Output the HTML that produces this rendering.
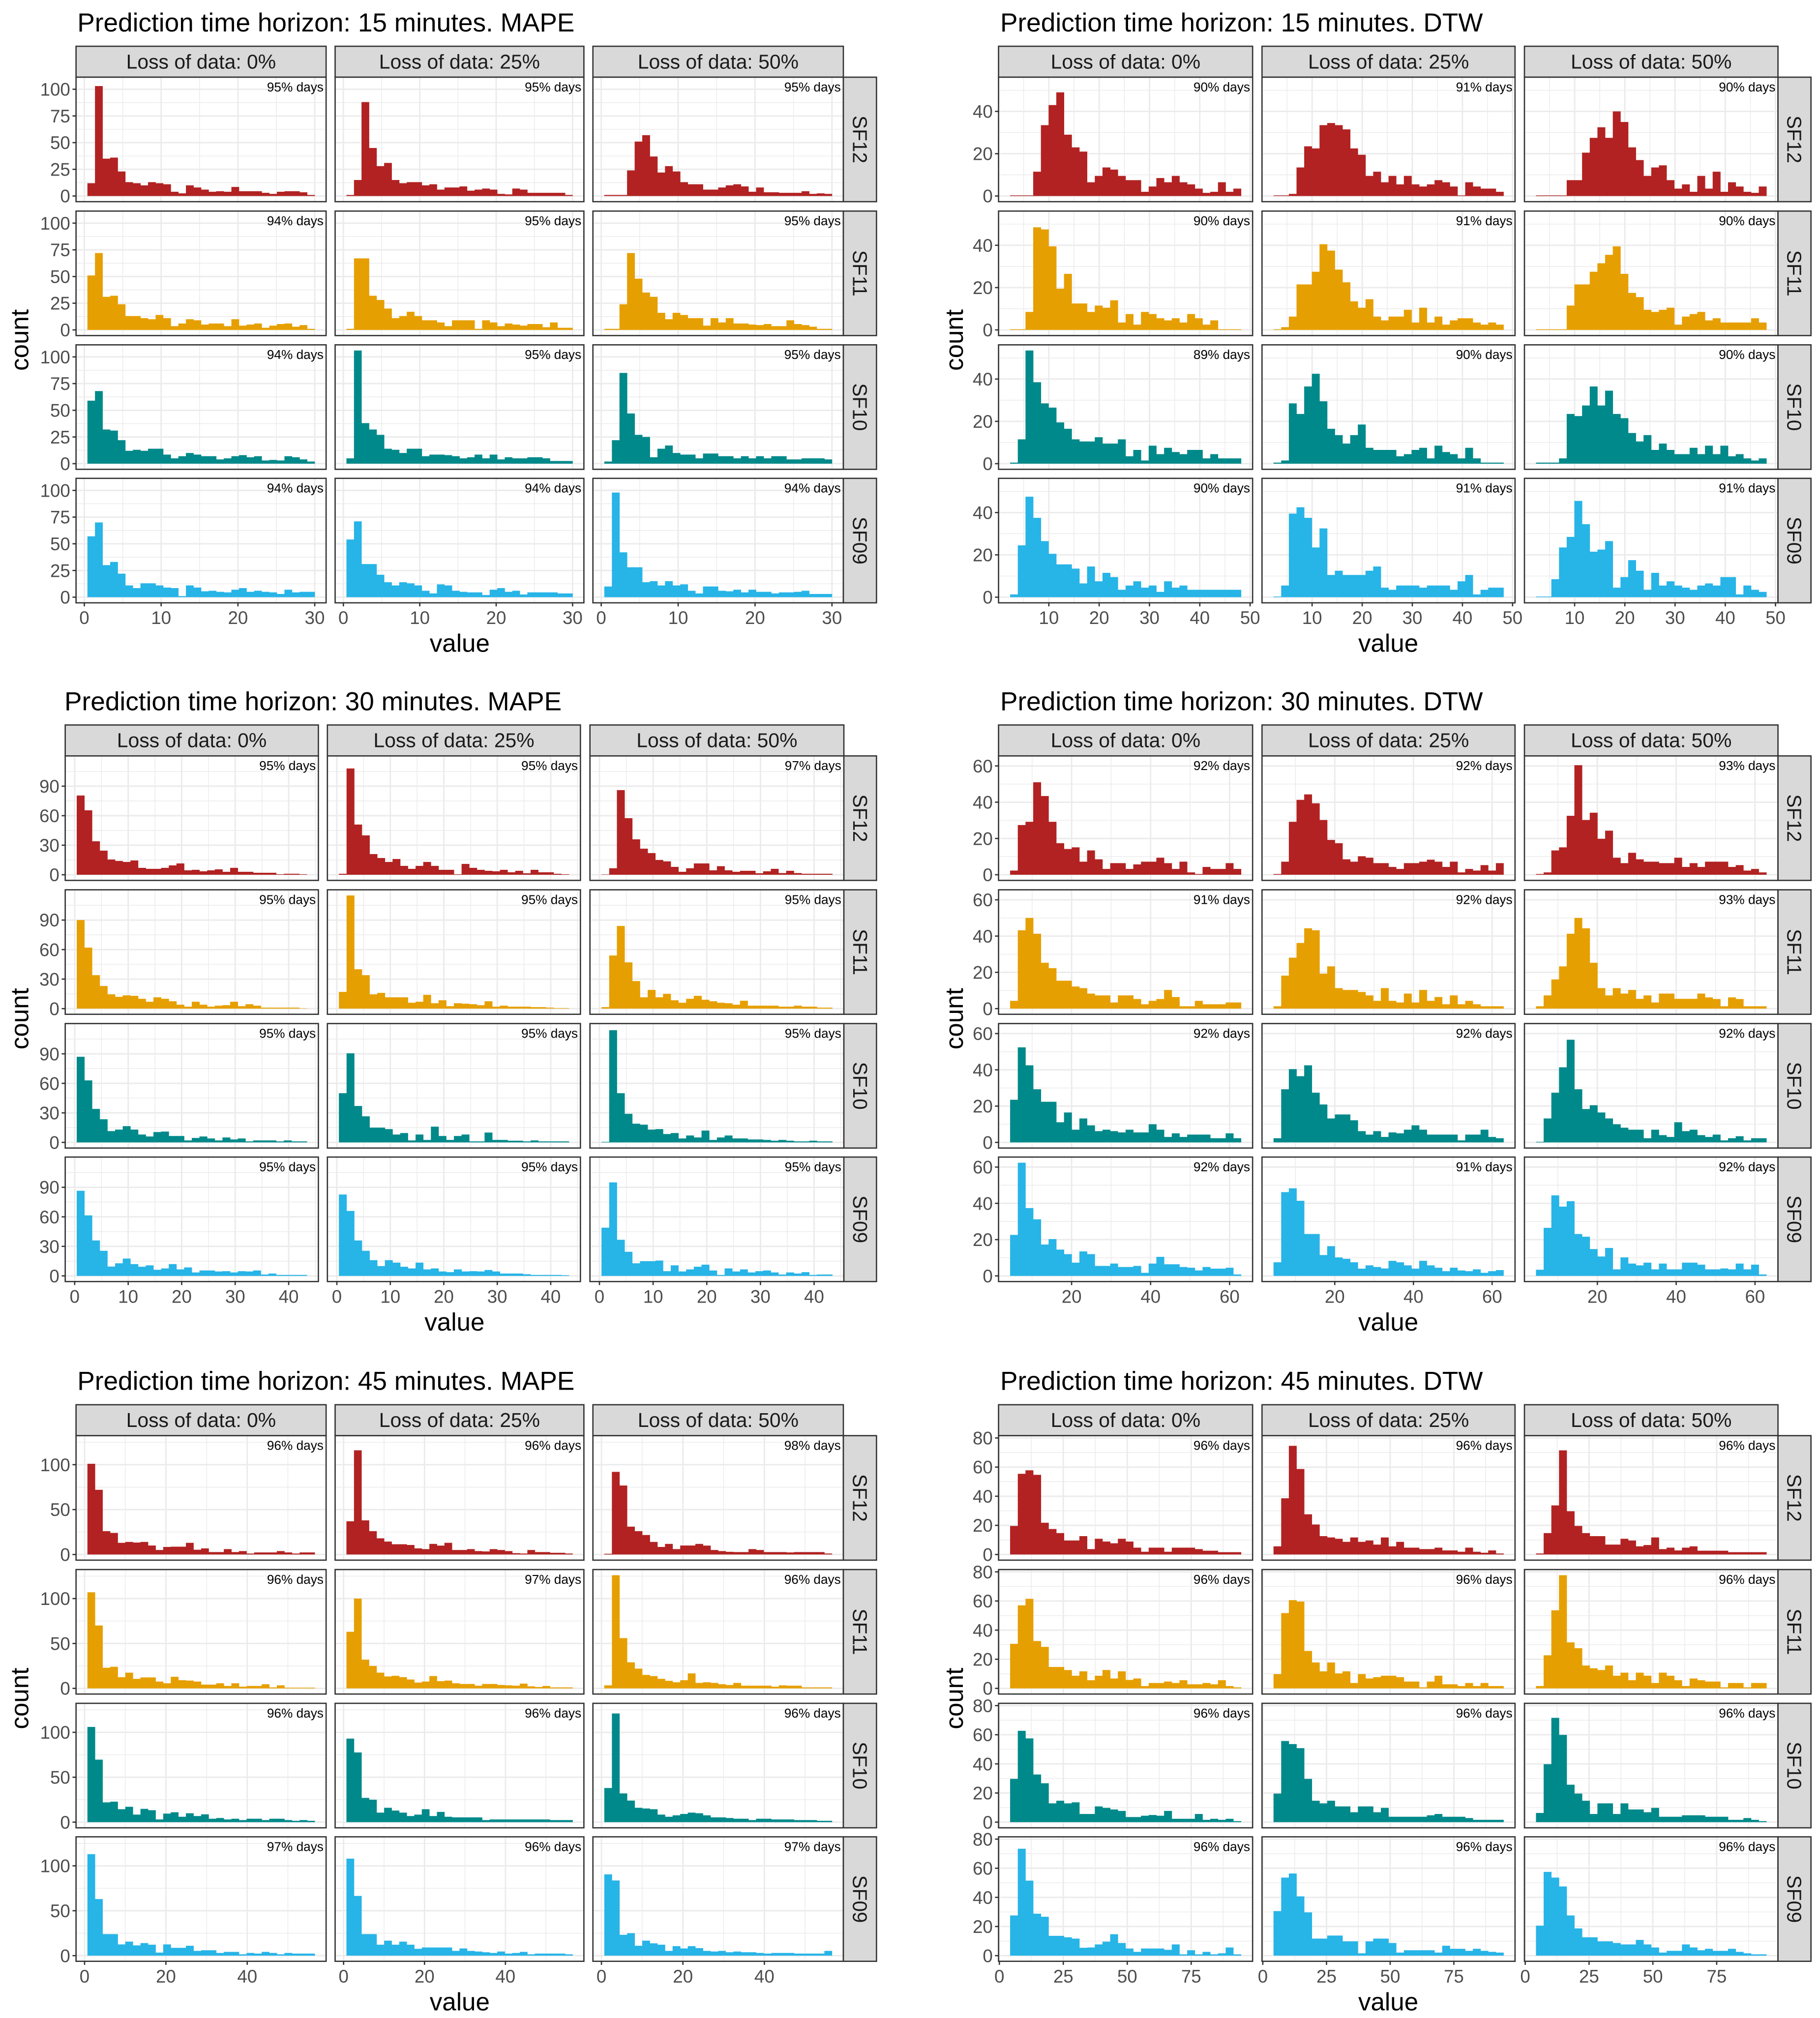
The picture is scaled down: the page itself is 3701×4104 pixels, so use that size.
<!DOCTYPE html>
<html><head><meta charset="utf-8">
<style>
html,body{margin:0;padding:0;background:#fff;}
svg{display:block;}
text{font-family:"Liberation Sans",Arial,sans-serif;}
</style></head>
<body>
<svg id="fig" xmlns="http://www.w3.org/2000/svg" width="3701" height="4104" viewBox="0 0 1412 1566" preserveAspectRatio="none"></svg>
<script>
// ---------- categories ----------
const stations = ['SF12','SF11','SF10','SF09'];
const losses = ['Loss of data: 0%','Loss of data: 25%','Loss of data: 50%'];
const stationColors = ['#B22222','#E69F00','#00898A','#27B4E7'];

// ---------- data: counts per bin [station][loss][bin] ----------
const mape15 = [
 [[12,103,35,36,23,13,12,10,13,12,11,4,2.5,10,8,6,4,4.5,4,8.5,4.5,4.5,4.5,3,2,4,4.5,4.5,3.5,1],
  [1,15,88,45,28,31,15,12,13,13,10,11,6,8,8,9,5,6,7,6,2,1.5,7,6,3,3,3,3,3,1],
  [1,1,1,24,51,57,37,22,28,23,13,11,11,6,6,8,10,11,9,4,8,3.5,3.5,3,3,3,4.5,2,2.5,2]],
 [[51,72,31,32,24,13,13,11,10,14,11,3.5,6,10,9,5,6,6,3.5,10,4,5,6,2,4,5.5,6,3,4.5,1],
  [1,67,67,32,28,20,11,13,17,13,9,9,7,3.5,9,9,9,1,9,7,3.5,6,5,4,5.5,5.5,2.5,7,2,2],
  [1,1,24,72,48,35,31,16,10,16,14,11,11,4,11,7,11,6,6,5,4.5,5.5,3.5,3.5,9,5.5,4.5,3,1,1]],
 [[59,68,32,31,22,12,13,12,14,14,8.5,5,7,10,8.5,7,7,4,5,7,8,6,7,3,3.5,3,7,6,4,2],
  [5,106,38,32,27,14,13,10,14,14,7,8.5,8.5,8,7,5,6,8.5,5,8.5,4,6,5,5,6,6,5,2.5,2.5,2.5],
  [2,22,85,47,27,25,6,14,17,10,8.5,8.5,5,9.5,9.5,7,7,5,7,5,7,5,7,7,4,4,5,5,5,4]],
 [[57,70,30,33,22,11,8.5,13,13,11,9,8.5,1,11,9,5.5,6,5,4.5,7,8.5,5,6,5,4.5,3,7,4.5,5,5],
  [54,71,31,31,21,14,11,14,13,11,6,3.5,12,11,6,5,4.5,4.5,2,7,8.5,5,6,2.5,4.5,4.5,4.5,4.5,3.5,3.5],
  [10,98,42,28,28,14,15,11,15,11,12,6,3.5,10,10,6,5.5,7,4.5,7,5,5,3.5,4.5,4.5,5,6,3,3,3]]
];
const dtw15 = [
 [[0.3,0.3,0.3,11.5,33.5,43,49,29,23,21,6.5,9.5,13.5,12.5,9.5,7.5,7.5,2,4.5,8.5,6.5,9.5,6.5,5.5,3.5,1.5,2,6.5,2,3.5],
  [0.3,0.3,1,13.5,23.5,22.5,33.5,34.5,33.5,31.5,22.5,19.5,9.5,11.5,6.5,9.5,5.5,9.5,5.5,4.5,5.5,7.5,6.5,4.5,0.3,6.5,4.5,3.5,3.5,2],
  [0.3,0.3,0.3,0.3,7.5,7.5,20.5,27.5,32.5,27.5,40,35,23,17,9.5,13.5,14.5,7.5,3.5,5.5,2,9.5,3.5,11.5,2,6.5,4.5,2,1.5,4.5]],
 [[0.3,0.3,8.5,48.5,47.5,39.5,19.5,26.5,12.5,12.5,8.5,11.5,10.5,14,3.5,7.5,2.5,8.5,7.5,5.5,4.5,5.5,3.5,7.5,5.5,2.5,4.5,0.3,0.3,0.3],
  [0.3,1.3,6.3,21.5,21.5,27.5,40.5,37.5,28.5,22.5,13.5,10.5,14.5,6.3,4.5,6.3,6.3,9.5,3.5,10.5,3.5,6.3,2.5,4.5,5.5,5.5,3.5,2.5,3.5,2.5],
  [0.3,0.3,0.3,0.3,11.5,21.5,21.5,27.5,31.5,35.5,39.5,26.5,17.5,15.5,9.5,8.5,9.5,10.5,2.5,6.3,7.5,8.5,4.5,5.5,3.5,3.5,3.5,3.5,5.5,3.5]],
 [[0.5,11.5,53.5,38.5,28.5,26.5,19.5,16.5,11.5,10.5,10.5,12.5,9.5,9.5,11.5,3.5,6.5,1.5,8.5,4.5,7.5,5.5,4.5,6.5,6.5,2.5,4.5,2.5,2.5,2.5],
  [0.5,1.5,28.5,23.5,36.5,42.5,29.5,16.5,13.5,9.5,13.5,18.5,7.5,6.5,6.5,6.5,3.5,4.5,6.5,7.5,2.5,8.5,5.5,4.5,2.5,7.5,2.5,0.5,0.5,0.5],
  [0.5,0.5,0.5,2.5,23.5,22.5,27.5,36.5,27.5,34.5,23.5,21.5,14.5,10.5,13.5,6.5,9.5,6.5,4.5,4.5,7.5,4.5,8.5,4.5,8.5,3.5,4.5,2.5,1.5,2.5]],
 [[1.3,24.5,47.5,37.5,26.5,20.5,15.5,15.5,13.5,6.5,14.5,7.5,11.5,9.5,3.5,5.5,7.5,4.5,5.5,2.5,7.5,4.5,5.5,3.5,3.5,3.5,3.5,3.5,3.5,3.5],
  [0.3,5.5,39.5,42.5,37.5,23.5,32.5,10.5,12.5,10.5,10.5,10.5,12.5,14.5,4.5,3.5,5.5,5.5,5.5,4.5,5.5,5.5,5.5,3.5,7.5,10.5,1.3,3.5,4.5,4.5],
  [0.3,0.3,8.5,23.5,28.5,45.5,34.5,21.5,22.5,26.5,4.5,9.5,17.5,12.5,3.5,11.5,5.5,7.5,5.5,4.5,3.5,5.5,6.5,5.5,9.5,9.5,1.3,5.5,3.5,2.5]]
];
const mape30 = [
 [[80.5,65.5,34,24.5,15.5,14,13,14.5,7,6,6,7,9.5,11.5,4.5,5,3.5,4.5,5.5,3,7,3,3,2,2,2,0.5,1,1,0.5],
  [1,108,51,40,21,17,13,16,9,6,9,13,9,5,5,0.5,11,7,5,4,3.5,5,2.5,4,1.5,5,2.5,2.5,1,0.5],
  [0.3,6.6,86,57.5,36,26.5,22,15,13.6,8,3,6.6,11.5,11.5,4.5,8.7,4.5,3,4,4,1.5,3.5,6,1.7,4,1.7,1,1,1,1]],
 [[90,62,34,23,14.5,12,13.5,13,10,7,11.5,10,7.5,4,2,7,4,2,3,3.5,7,2.5,4.5,3,1,1,1,1,1,0.3],
  [17,115,40,34,14.5,16,11.5,11.5,11.5,6,7,14,5.5,8.5,2.5,5.5,5,4.5,3.5,7.5,2,3,2,2,2,1.5,1.5,1,0.5,0.5],
  [1.5,54,84,47,28,11.5,19,11.5,15,8.5,6,10,13,9,7.5,6,5.5,4,8,3,3,3,3,2,2,3,2,2,1,1]],
 [[87,63,34,23.5,11.5,13,16.5,13,8,6,10.5,11,6.5,6.5,2,4.5,6,4,2,5,3,4,1,2,2,2,1,2,1,1],
  [50,90.5,37,26.5,15,15,13.5,8,9.5,2,8,2.5,16,6.5,2.5,6.5,8,1,1,10,2.5,2.5,1.7,1.7,1,2,1,1,1,1],
  [0.5,114,50,29,19,18,13,13.5,8.5,9.5,4,7,5,12,2.5,5,7,4,4,3,3,2.5,1.7,2.5,1.7,1,1,1.7,1,1]],
 [[86.5,61.5,36,25.5,9.5,12.8,17.6,12,9.3,10.7,6.2,7.6,12,6.6,8.6,3.5,5.5,5.5,4.5,4.8,3.5,4.8,4.5,5.5,1.4,2.4,1,1,1,1],
  [82.7,66,36,25.5,16,10,16,13.5,9.3,7.6,13.5,6.6,7.6,4.5,3.8,6.6,4.5,4.8,4.5,6,4.5,2.4,2.4,2.4,1.7,1,1,1,1,0.7],
  [49,95,36.7,24.5,12.8,14.9,14.9,15.6,4.8,10.7,4.5,6.6,9.3,11.4,5.5,1,7.6,4.5,6.6,3.5,4.8,5.5,3.5,1.4,3.5,2.4,3.8,1,1.4,1.4]]
];
const dtw30 = [
 [[2.3,27.4,29.2,51,43.4,29.2,17.4,14.2,15.1,7.2,13.4,8.5,3.2,6.4,6.4,3.2,5.7,7.2,7.2,9.4,6.4,3.2,7.2,1.3,0.4,4.3,3.2,3.2,6.4,3.2],
  [0.4,7.2,29.2,41.3,44.3,39.4,30.2,19.2,17.4,8.5,7.2,10.2,9.4,6.4,6.4,4.3,3.2,6.4,6.4,7.2,8.3,7.2,4.3,7.2,1.3,3.2,2.3,5.3,2.3,6.4],
  [0.4,1.3,13.4,15.1,32.5,60.4,30.2,34.2,19.8,24.3,9.4,6.4,12.1,8.5,7.2,7.2,6.4,6.4,9.4,4.3,6.4,4.3,7.2,7.2,7.2,4.3,5.3,2.3,3.2,1.3]],
 [[4.3,43.2,50,41.3,25.3,22.3,15.4,15.4,12.2,11.3,8.3,7.3,7.3,3.4,7.3,7.3,5.3,2.4,4.3,5.3,10.3,6.4,1.3,1.3,4.3,2.4,2.4,2.4,3.4,3.4],
  [1.3,18.2,28.1,36.2,44.3,43.2,19.3,23.3,11.3,10.3,10.3,9.2,7.3,4.3,11.3,4.3,3.4,8.3,3.4,10.3,4.3,6.4,2.4,7.3,2.4,4.3,2.4,1.3,1.3,1.3],
  [1.3,7.3,16.1,23.3,41.3,50,44.3,25.3,11.3,7.3,11.3,8.3,10.3,5.4,7.3,3.4,8.3,8.3,5.4,5.4,5.4,8.3,6.2,5.3,1.3,6.2,5.3,1.3,1.3,1.3]],
 [[23.5,52.4,42.5,29.3,22.4,22.4,11.1,16.5,7,13.2,9.4,6.2,7,6.2,5.5,7,5.5,5.5,10,7,3,5,3,4.3,4.3,4.3,2.3,2.3,5,2.3],
  [2.3,29.3,40.4,36.5,42.5,27.4,20.9,13.2,15.4,15.4,12.2,6.2,4.3,6.2,3,5.5,5,7,9.4,7,4.3,4.3,4.3,4.3,1.1,4.3,4.3,7,3,2.3],
  [0.3,13.2,27.4,41.4,56.6,29.3,18.4,20.5,16.5,13.2,10,8.1,7,7,2.3,7,4,3,11.1,6.2,7,4,3,4.3,1.1,2.3,3.4,1.1,2.3,2.3]],
 [[22.6,62.4,37.4,31.2,17.3,20.3,14.5,12,7.3,13.5,12,5.5,5.5,6.8,4.9,4.9,5.5,1.7,6.8,10.5,6.4,6.4,4.9,4.5,3,4.9,4,4,4.5,0.8],
  [7.5,46.2,48.3,41.4,23.1,23.1,11.5,16.4,10.2,9.4,7.5,4,5.8,4.9,4.1,8.3,7.5,5.8,4,8.3,5.8,4.5,2.6,4.5,3,2.6,3.6,1.7,2.6,3.2],
  [3.4,26.5,44.4,38.2,41.2,23.1,21.6,14.8,10.7,15.4,3.6,10.2,6.8,5.8,7.3,3.6,6.8,3.6,3.6,7.3,7.3,6.2,3.6,3.6,4.1,3.6,6.8,3.6,6.2,0.8]]
];
const mape45 = [
 [[101,72,26,24,13,14,13.3,14,10,5,8.4,8.7,8.7,13,5.3,6.8,2.7,2.7,6,2.7,3.8,1.1,2.3,2.3,2.3,3.8,2.3,1.1,2.3,2.3],
  [37,116,38,26,18,14.4,11.4,11.4,10.6,6.8,6,11.8,9.9,13,5,5,6,3.8,3.4,6,5,3.8,1.5,1.1,5,2.7,2.7,1.9,1.9,1.1],
  [0.8,92,76.8,31,26,21.7,14,8.4,11.8,6,10,10,11.8,9.9,5,3.8,3,2.7,2.7,6,5,2.7,2.7,2.7,2.3,2.7,2.7,2.7,2.7,1.1]],
 [[107,70,23,24,12.5,17.5,10.6,12.2,12.2,7.6,5.7,12.9,9.1,8.7,7.6,4.2,4.2,5.7,2.7,5.7,1.9,2.7,2.7,4.6,1.1,3.4,0.8,0.8,0.8,0.8],
  [63,100,32,25,17.5,13.3,14,12.5,9.9,6.5,7.6,13.7,8,8.7,5.7,4.9,4.9,3,4.9,4.9,3.8,3.4,3,5.3,2.3,1.5,2.7,1.1,1.1,1.1],
  [3.4,126,56,29,22,15,13.7,10.6,8.4,6.8,9.1,16.7,6.1,6.8,6.1,4.6,3.8,6.1,3,3,3,3,1.9,3.4,3,3,1.1,1.1,1.1,1.1]],
 [[106,69.6,22,22.8,14.4,17.1,8.4,14.8,13.3,3,9.5,11,6,9.9,6.8,8.7,3.8,4.6,3,3.8,2.3,3.8,3.8,2.3,3.8,3.8,2.3,1.5,2.3,1.5],
  [93,77.6,27,25,10.6,16,12.9,10.6,6.8,8.4,14.4,6.8,11.4,6,5.3,5.3,5.3,5.3,2.3,3,3,3,3,3,3,3,3,2.3,2.3,2.3],
  [38,121,32,24,16,15.2,14.4,8.4,6,7.6,9.1,10.6,9.9,7.6,5.3,5.3,4.6,3.8,3.8,2.3,3.8,3.8,3,3,3,2.3,2.3,2.3,1.5,1.5]],
 [[113,63,24,24,12.5,15.6,11.4,14,12.2,3.4,12.5,8.7,8.7,11,5.3,6,6,3,4.2,4.2,1.5,3,2.3,4.2,3,1.5,3,2.3,2.3,2.3],
  [108,66.5,24,24,12.2,16.7,12.2,15.6,12.2,7.6,9.1,9.1,9.1,9.1,5.3,8,5.3,4.6,3.8,3,4.6,2.3,3,4.2,1.5,2.3,2.3,2.3,2.3,1.5],
  [90.5,83.7,23.2,25,11,16.7,13.7,12.2,5.3,10.6,8,10.6,8.4,5.3,4.6,5.3,3.8,4.6,3.8,3.8,3,2.3,3,3,3,2.3,2.3,2.3,2.3,5.3]]
];
const dtw45 = [
 [[19.6,55.4,57.8,54.7,21.8,17.5,14.7,9.6,9.6,12.6,3.7,10.8,8.9,7.7,10.8,8.9,4.7,1.9,4.7,4.7,1.9,4.7,4.7,4.7,3.7,2.6,2.6,1.6,1.6,1.6],
  [5.6,38.6,74.6,58.7,27.6,20.6,12.6,11.7,10.8,8.7,11.7,8.7,9.6,6.8,11.7,5.6,8.7,4.7,4.7,3.7,3.7,4.7,2.8,2.8,1.9,4.7,1.9,1.2,2.8,0.7],
  [0.7,14.7,33.7,71.5,29.7,19.6,14.7,12.6,12.6,6.8,6.8,10.8,9.6,5.6,6.5,11.7,3.7,4.7,2.8,4.7,5.6,2.6,2.6,2.6,2.6,1.6,1.6,1.6,1.6,1.6]],
 [[30.6,57,61.5,32.5,28.5,14.7,14.7,12.6,8.7,11.7,5.6,8.7,12.6,6.8,11.7,5.8,6.8,1.6,3.7,3.7,4.7,3.7,5.6,2.8,2.8,3.7,2.8,5.6,1.6,0.7],
  [9.8,51.7,60.6,59.6,25.7,17.8,11.7,17.8,10.3,11.7,3.7,9.8,6.8,7.7,8.7,8.7,7.7,4.7,4.7,0.7,4.7,8.7,2.8,2.8,1.6,3.7,1.6,3.7,1.6,1.6],
  [1.6,22.7,53.6,77.7,31.6,27.6,15.7,13.8,12.6,15.7,8.7,10.8,5.6,10.8,8.7,3.7,10.8,8.7,5.6,1.6,6.8,5.6,4.7,4.7,0.7,3.7,3.7,0.7,3.7,3.7]],
 [[29.7,62.7,57.5,32.7,26.7,12.9,14.7,12.9,13.6,5.6,5.6,10.8,9.8,8.7,7.7,3.5,3.5,4.4,4.9,4.4,7.7,2.3,2.3,2.3,5.6,1.6,2.3,1.6,2.3,0.7],
  [19.6,55.7,53.6,50.8,29.7,14.7,12.9,14.7,10.8,10.8,6.8,10.8,10.8,6.8,9.8,3.7,3.7,3.7,3.7,3.7,4.7,5.6,3.7,3.7,3.7,2.8,1.6,1.6,1.6,1.6],
  [6.3,39.8,71.6,59.9,25.7,19.6,14.7,5.6,12.9,12.9,5.6,12.9,8.7,8.7,6.8,9.8,3.7,3.7,3.7,4.7,4.7,4.7,3.7,3.7,3.7,1.6,1.6,2.8,1.6,0.7]],
 [[27.6,73.4,51.5,28.8,26.7,13.6,13.6,12.6,11.7,5.4,5.6,7.7,9.6,14.7,8.7,4.9,2.6,4.9,4.9,4.9,4,7.7,0.9,3.7,0.9,2.6,0.9,1.6,5.6,0.9],
  [30.6,53.6,56.4,40.7,29.7,11.7,11.7,13.8,13.8,9.8,9.8,1.6,9.8,11.7,11.7,8.7,2.1,3.7,3.7,3.7,3.7,2.1,6.8,4.7,4.7,3.3,4.7,3.3,2.6,2.1],
  [20.6,57.5,53.6,47.5,27.6,18.7,12.6,12.6,9.8,9.8,8.7,7.7,7.7,10.8,7.7,5.6,2.1,3.3,3.3,7.7,5.6,3.7,4.7,3.3,3.3,4.7,2.6,1.6,0.9,0.9]]
];

// ---------- "% days" labels [station][loss] ----------
const pctMape15 = [[95,95,95],[94,95,95],[94,95,95],[94,94,94]];
const pctDtw15  = [[90,91,90],[90,91,90],[89,90,90],[90,91,91]];
const pctMape30 = [[95,95,97],[95,95,95],[95,95,95],[95,95,95]];
const pctDtw30  = [[92,92,93],[91,92,93],[92,92,92],[92,91,92]];
const pctMape45 = [[96,96,98],[96,97,96],[96,96,96],[97,96,97]];
const pctDtw45  = [[96,96,96],[96,96,96],[96,96,96],[96,96,96]];

// ---------- tick labels ----------
const xTicksMape15 = [0,10,20,30];
const xTicksDtw15 = [10,20,30,40,50];
const xTicksMape30 = [0,10,20,30,40];
const xTicksDtw30 = [20,40,60];
const xTicksMape45 = [0,20,40];
const xTicksDtw45 = [0,25,50,75];
const yTicksMape15 = [0,25,50,75,100];
const yTicksDtw15 = [0,20,40];
const yTicksMape30 = [0,30,60,90];
const yTicksDtw30 = [0,20,40,60];
const yTicksMape45 = [0,50,100];
const yTicksDtw45 = [0,20,40,60,80];

// ---------- layout (not data) ----------
const NS='http://www.w3.org/2000/svg';
const svg=document.getElementById('fig');
const LEFT_FACETS=[[59,253],[260,453],[460,654.3]];
const MID_FACETS=[[50.6,247],[254,450.3],[457.7,654.7]];
const RIGHT_FACETS=[[774.7,971.8],[979.1,1175.4],[1182.7,1379.4]];

function mk(tag,attrs,parent){
  const e=document.createElementNS(NS,tag);
  for(const k in attrs) e.setAttribute(k,attrs[k]);
  (parent||svg).appendChild(e);
  return e;
}
function minors(ticks,lo,hi){
  const s=ticks.length>1?ticks[1]-ticks[0]:10;
  const out=[];
  for(let v=ticks[0]-s*1.5; v<=hi+s; v+=s){ if(v>lo && v<hi) out.push(v); }
  return out;
}

function drawPanel(cfg,data,pcts){
  const g=mk('g',{});
  
  
  const tops=[59.9,163.8,267.6,371.2].map(v=>v+cfg.yOff);
  const rh=96.6;
  let M=0; data.forEach(r=>r.forEach(a=>a.forEach(v=>{if(v>M)M=v;})));
  const ylo=-0.05*M, yhi=1.05*M;
  const rng=cfg.lo, rngHi=cfg.hi, span=rngHi-rng;
  const xlo=rng-0.05*span, xhi=rngHi+0.05*span;
  const xMin=minors(cfg.xticks,xlo,xhi), yMin=minors(cfg.yticks,ylo,yhi);

  const title=mk('text',{x:cfg.titleX,y:tops[0]-35.5,'font-size':20.3,fill:'#000'},g);
  title.textContent=cfg.title;
  
  

  cfg.facets.forEach((f,c)=>{
    const st=mk('rect',{x:f[0],y:tops[0]-24,width:f[1]-f[0],height:24,fill:'#D9D9D9',stroke:'#333333','stroke-width':1},g);
    
    
    const stt=mk('text',{x:(f[0]+f[1])/2,y:tops[0]-6.7,'font-size':15.6,'text-anchor':'middle',fill:'#1A1A1A'},g);
    stt.textContent=losses[c];
    
    
  });

  stations.forEach((sname,r)=>{
    const top=tops[r], bot=top+rh;
    const ys=v=>bot-(v-ylo)/(yhi-ylo)*rh;
    cfg.facets.forEach((f,c)=>{
      const xs=v=>f[0]+(v-xlo)/(xhi-xlo)*(f[1]-f[0]);
      const fg=mk('g',{},g);
      
      
      mk('rect',{x:f[0],y:top,width:f[1]-f[0],height:rh,fill:'#FFFFFF'},fg);
      yMin.forEach(v=>mk('line',{x1:f[0],x2:f[1],y1:ys(v),y2:ys(v),stroke:'#EBEBEB','stroke-width':0.55},fg));
      xMin.forEach(v=>mk('line',{x1:xs(v),x2:xs(v),y1:top,y2:bot,stroke:'#EBEBEB','stroke-width':0.55},fg));
      cfg.yticks.forEach(v=>mk('line',{x1:f[0],x2:f[1],y1:ys(v),y2:ys(v),stroke:'#EBEBEB','stroke-width':1.1},fg));
      cfg.xticks.forEach(v=>mk('line',{x1:xs(v),x2:xs(v),y1:top,y2:bot,stroke:'#EBEBEB','stroke-width':1.1},fg));
      const vals=data[r][c];
      const bw=span/vals.length;
      vals.forEach((v,i)=>{
        const x0=xs(rng+i*bw), x1=xs(rng+(i+1)*bw);
        const b=mk('rect',{x:x0,y:ys(v),width:x1-x0+0.15,height:Math.max(0,ys(0)-ys(v)),fill:stationColors[r]},fg);
        
        
      });
      const bd=mk('rect',{x:f[0],y:top,width:f[1]-f[0],height:rh,fill:'none',stroke:'#333333','stroke-width':1},fg);
      
      
      const pl=mk('text',{x:f[1]-2,y:top+11,'font-size':10,'text-anchor':'end',fill:'#000'},fg);
      pl.textContent=pcts[r][c]+'% days';
      
      
      if(c===0){
        cfg.yticks.forEach(v=>{
          mk('line',{x1:f[0]-2.75,x2:f[0],y1:ys(v),y2:ys(v),stroke:'#333333','stroke-width':1},g);
          const t=mk('text',{x:f[0]-4.5,y:ys(v)+5,'font-size':14,'text-anchor':'end',fill:'#4D4D4D'},g);
          t.textContent=v;
          
          
        });
      }
      if(r===3){
        cfg.xticks.forEach(v=>{
          mk('line',{x1:xs(v),x2:xs(v),y1:bot,y2:bot+2.75,stroke:'#333333','stroke-width':1},g);
          const t=mk('text',{x:xs(v),y:bot+16.5,'font-size':14,'text-anchor':'middle',fill:'#4D4D4D'},g);
          t.textContent=v;
          
          
        });
      }
    });
    const sr=cfg.stripR;
    const rs=mk('rect',{x:sr[0],y:top,width:sr[1]-sr[0],height:rh,fill:'#D9D9D9',stroke:'#333333','stroke-width':1},g);
    
    
    const cx=(sr[0]+sr[1])/2-5.5, cy=top+rh/2;
    const rt=mk('text',{x:cx,y:cy,'font-size':15.5,'text-anchor':'middle',fill:'#1A1A1A',transform:'rotate(90 '+cx+' '+cy+')'},g);
    rt.textContent=sname;
    
    
  });

  const lastBot=tops[3]+rh;
  const xt=mk('text',{x:(cfg.facets[0][0]+cfg.facets[2][1])/2,y:lastBot+38,'font-size':19.5,'text-anchor':'middle',fill:'#000'},g);
  xt.textContent='value';
  
  
  const cy=(tops[0]+lastBot)/2, cx=cfg.countX+7;
  const yt=mk('text',{x:cx,y:cy,'font-size':19.5,'text-anchor':'middle',fill:'#000',transform:'rotate(-90 '+cx+' '+cy+')'},g);
  yt.textContent='count';
  
  
}

drawPanel({name:'panel-15min-mape',title:'Prediction time horizon: 15 minutes. MAPE',titleX:60,yOff:0,facets:LEFT_FACETS,stripR:[654.3,680],lo:0.4,hi:30,xticks:xTicksMape15,yticks:yTicksMape15,countX:15},mape15,pctMape15);
drawPanel({name:'panel-15min-dtw',title:'Prediction time horizon: 15 minutes. DTW',titleX:776,yOff:0,facets:RIGHT_FACETS,stripR:[1379.4,1405],lo:2.3,hi:48.2,xticks:xTicksDtw15,yticks:yTicksDtw15,countX:740},dtw15,pctDtw15);
drawPanel({name:'panel-30min-mape',title:'Prediction time horizon: 30 minutes. MAPE',titleX:50,yOff:526.7,facets:MID_FACETS,stripR:[654.7,680],lo:0.38,hi:43.4,xticks:xTicksMape30,yticks:yTicksMape30,countX:15},mape30,pctMape30);
drawPanel({name:'panel-30min-dtw',title:'Prediction time horizon: 30 minutes. DTW',titleX:776,yOff:526.7,facets:RIGHT_FACETS,stripR:[1379.4,1405],lo:4.43,hi:62.9,xticks:xTicksDtw30,yticks:yTicksDtw30,countX:740},dtw30,pctDtw30);
drawPanel({name:'panel-45min-mape',title:'Prediction time horizon: 45 minutes. MAPE',titleX:60,yOff:1054.2,facets:LEFT_FACETS,stripR:[654.3,680],lo:0.7,hi:56.6,xticks:xTicksMape45,yticks:yTicksMape45,countX:15},mape45,pctMape45);
drawPanel({name:'panel-45min-dtw',title:'Prediction time horizon: 45 minutes. DTW',titleX:776,yOff:1054.2,facets:RIGHT_FACETS,stripR:[1379.4,1405],lo:4.2,hi:94.5,xticks:xTicksDtw45,yticks:yTicksDtw45,countX:740},dtw45,pctDtw45);
</script>
</body></html>
